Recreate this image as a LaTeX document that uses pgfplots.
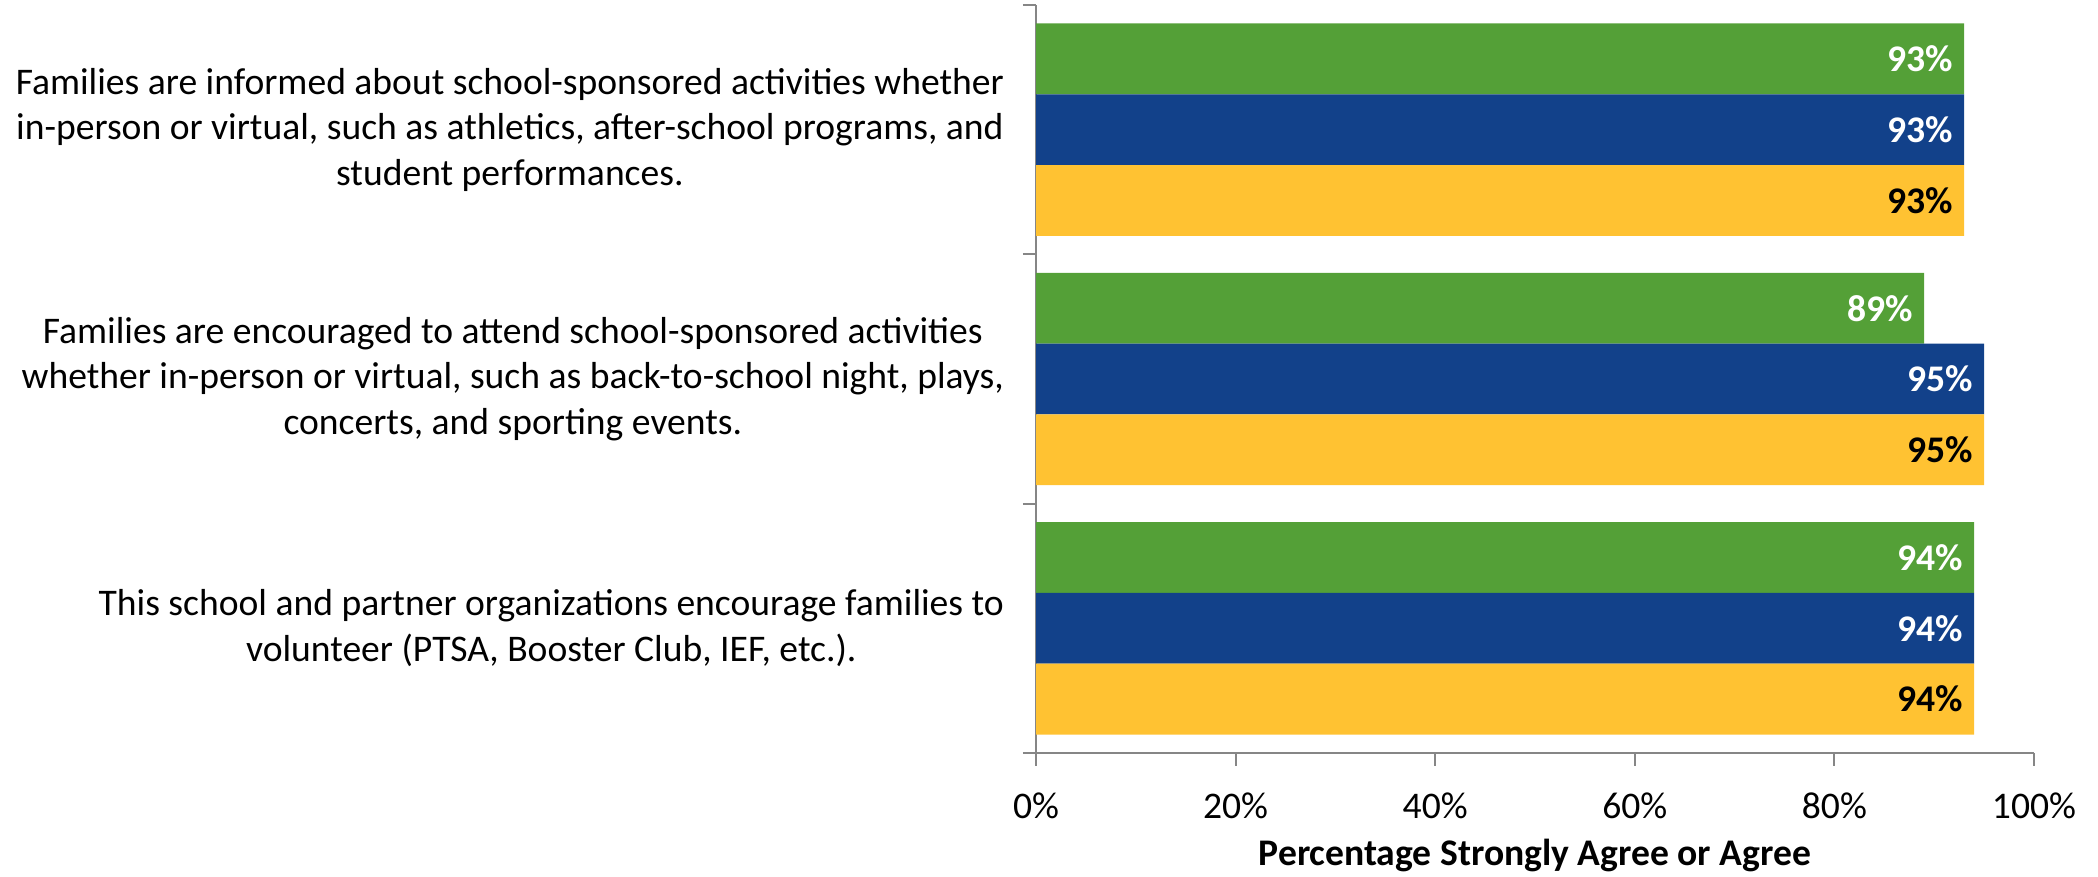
\documentclass[border=0pt]{standalone}
\usepackage{pgfplots}
\pgfplotsset{compat=1.18}
\usepackage{fontspec}
\setmainfont{Carlito}

\definecolor{barGreen}{RGB}{84,160,55}
\definecolor{barBlue}{RGB}{18,65,138}
\definecolor{barYellow}{RGB}{255,194,50}
\definecolor{axGray}{RGB}{134,134,134}

\begin{document}
\begin{tikzpicture}
\useasboundingbox (0,0) rectangle (1049pt,438.5pt);
\begin{axis}[
    at={(518pt,62pt)}, anchor=south west,
    scale only axis,
    width=499pt, height=374pt,
    xbar,
    xmin=0, xmax=100,
    ymin=-0.5, ymax=2.5,
    bar width=0.284,
    xtick={0,20,40,60,80,100},
    xticklabel={\pgfmathprintnumber{\tick}\%},
    ytick={-0.5,0.5,1.5,2.5},
    yticklabels={,,,},
    extra y ticks={0,1,2},
    extra y tick labels={
        {This school and partner organizations encourage families to\\volunteer (PTSA, Booster Club, IEF, etc.).},
        {Families are encouraged to attend school-sponsored activities\\whether in-person or virtual, such as back-to-school night, plays,\\concerts, and sporting events.},
        {Families are informed about school-sponsored activities whether\\in-person or virtual, such as athletics, after-school programs, and\\student performances.}
    },
    extra y tick style={tick style={draw=none}},
    major tick length=6.5pt,
    tick align=outside,
    xtick pos=bottom, ytick pos=left,
    axis x line*=bottom, axis y line*=left,
    axis line style={axGray, line width=1pt},
    tick style={axGray, line width=1pt},
    /pgf/number format/assume math mode=true,
    tick label style={font=\fontsize{18.8}{22.8}\selectfont},
    yticklabel style={align=center, anchor=east, xshift=-6pt},
    xticklabel style={anchor=center, yshift=-20pt},
    xlabel={\textbf{Percentage Strongly Agree or Agree}},
    xlabel style={font=\fontsize{18.8}{22.8}\selectfont, at={(axis description cs:0.5,0)}, anchor=center, yshift=-51pt},
    nodes near coords={\pgfmathprintnumber{\pgfplotspointmeta}\%},
    nodes near coords style={anchor=east, xshift=-2pt, font=\fontsize{18.8}{22.8}\selectfont\bfseries,
        /pgf/number format/assume math mode=true},
]
\addplot[fill=barGreen, draw=none, bar shift=0.284, nodes near coords style={text=white}]
    coordinates {(94,0) (89,1) (93,2)};
\addplot[fill=barBlue, draw=none, bar shift=0, nodes near coords style={text=white}]
    coordinates {(94,0) (95,1) (93,2)};
\addplot[fill=barYellow, draw=none, bar shift=-0.284, nodes near coords style={text=black}]
    coordinates {(94,0) (95,1) (93,2)};
\end{axis}
\end{tikzpicture}
\end{document}
